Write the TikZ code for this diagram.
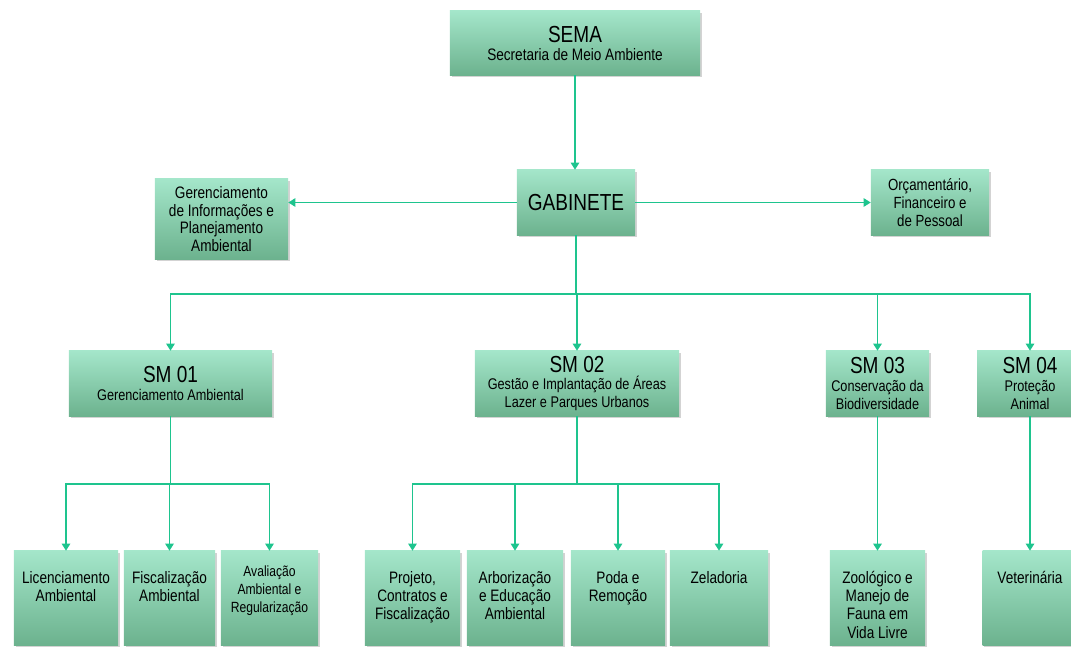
\documentclass[tikz,border=0pt]{standalone}
\usepackage{fontspec}
\setmainfont{Liberation Sans}[FakeStretch=0.82]
\usetikzlibrary{calc, positioning, arrows.meta, shadows}

\definecolor{boxtop}{RGB}{164,230,202}
\definecolor{boxbot}{RGB}{108,178,142}
\definecolor{linkgreen}{RGB}{30,196,142}

\newcommand{\bigtitle}[1]{{\fontsize{16.5}{17}\selectfont #1}}
\newcommand{\leaftext}[2][2.2cm]{\parbox[c][2.35cm][t]{#1}{\centering\vspace*{0.5cm}#2}}

\tikzset{
  unit/.style={draw=none, top color=boxtop, bottom color=boxbot,
    drop shadow={opacity=0.35, shadow xshift=1.2pt, shadow yshift=-1.6pt},
    align=center, inner sep=1pt, minimum height=1.625cm,
    font=\fontsize{11}{12.8}\selectfont},
  leaf/.style={unit, inner sep=0pt, minimum height=2.35cm,
    font=\fontsize{11.8}{13}\selectfont},
  bus/.style={draw=linkgreen, line width=1pt},
  link/.style={bus, -{Triangle[width=6pt,length=5pt]}},
}

\begin{document}
\begin{tikzpicture}[x=0.025cm, y=-0.025cm]
		\useasboundingbox (0,0) rectangle (1071,656);
		% top levels %
		\node[unit, minimum width=6.25cm, minimum height=1.6cm] (sema) at (575,43) {\bigtitle{SEMA}\\\fontsize{11.8}{13.5}\selectfont Secretaria de Meio Ambiente};
		\node[unit, minimum width=2.95cm] (gab) at (576,202.5) {\bigtitle{GABINETE}};
		\node[unit, minimum width=3.325cm, minimum height=2cm, font=\fontsize{11.8}{12.5}\selectfont] (info) at (221.5,219) {Gerenciamento\\de Informações e\\Planejamento\\Ambiental};
		\node[unit, minimum width=2.95cm, font=\fontsize{11.5}{13}\selectfont] (orc) at (930,202.5) {Orçamentário,\\Financeiro e\\de Pessoal};

		% secretarias %
		\node[unit, minimum width=5.075cm] (sm1) at (170.5,383.5) {\bigtitle{SM 01}\\Gerenciamento Ambiental};
		\node[unit, minimum width=5.1cm] (sm2) at (577,383.5) {\bigtitle{SM 02}\\Gestão e Implantação de Áreas\\Lazer e Parques Urbanos};
		\node[unit, minimum width=2.575cm] (sm3) at (877.5,383.5) {\bigtitle{SM 03}\\Conservação da\\Biodiversidade};
		\node[unit, minimum width=2.65cm] (sm4) at (1030,383.5) {\bigtitle{SM 04}\\Proteção\\Animal};

		% leaves %
		\node[leaf, minimum width=2.6cm] (lic) at (66,598) {\leaftext{Licenciamento\\Ambiental}};
		\node[leaf, minimum width=2.275cm] (fis) at (169.5,598) {\leaftext{Fiscalização\\Ambiental}};
		\node[leaf, minimum width=2.425cm] (ava) at (269.5,598) {\leaftext{\fontsize{10.5}{12.5}\selectfont\vspace*{-0.12cm}Avaliação\\Ambiental e\\Regularização}};
		\node[leaf, minimum width=2.375cm] (pro) at (412.5,598) {\leaftext{Projeto,\\Contratos e\\Fiscalização}};
		\node[leaf, minimum width=2.4cm] (arb) at (515,598) {\leaftext{Arborização\\e Educação\\Ambiental}};
		\node[leaf, minimum width=2.35cm] (pod) at (618,598) {\leaftext{Poda e\\Remoção}};
		\node[leaf, minimum width=2.45cm] (zel) at (719,598) {\leaftext{Zeladoria}};
		\node[leaf, minimum width=2.375cm] (zoo) at (877.5,598) {\leaftext{Zoológico e\\Manejo de\\Fauna em\\Vida Livre}};
		\node[leaf, minimum width=2.375cm] (vet) at (1030,598) {\leaftext{Veterinária}};

		% bus lines %
		\coordinate (bus0) at (576,294);
		\coordinate (bus1) at (170,484);
		\coordinate (bus2) at (577,484);

		% edges %
		\draw[link] (sema.south) -- (sema.south |- gab.north);
		\draw[link] (gab.west) -- (gab.west -| info.east);
		\draw[link] (gab.east) -- (gab.east -| orc.west);
		\draw[bus] (gab.south) -- (gab.south |- bus0);
		\foreach \n in {sm1,sm2,sm3,sm4}
			\draw[link] (gab.south |- bus0) -| (\n.north);
		\draw[bus] (sm1.south) -- (sm1.south |- bus1);
		\foreach \n in {lic,fis,ava}
			\draw[link] (sm1.south |- bus1) -| (\n.north);
		\draw[bus] (sm2.south) -- (sm2.south |- bus2);
		\foreach \n in {pro,arb,pod,zel}
			\draw[link] (sm2.south |- bus2) -| (\n.north);
		\draw[link] (sm3.south) -- (sm3.south |- zoo.north);
		\draw[link] (sm4.south) -- (vet.north);
\end{tikzpicture}
\end{document}
